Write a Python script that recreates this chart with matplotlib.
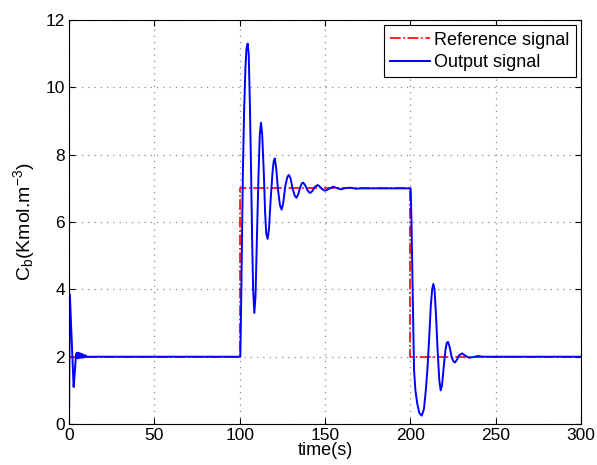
import matplotlib
matplotlib.use("Agg")
import matplotlib.pyplot as plt

# Reference signal
ref_t = [0, 100, 100, 200, 200, 300]
ref_y = [2, 2, 7, 7, 2, 2]

# Output signal
out_t = [0, 0.5, 1.5, 2.7, 3.4, 4.1, 4.6, 5.1, 5.6, 6.1, 6.6, 7.1, 7.6, 8.1, 8.6, 9.2, 9.8, 10.5, 11.5,
         100.4, 101.0, 101.5, 101.9, 102.6, 103.4, 104.0, 104.7, 105.3, 106.0, 106.7, 107.3, 107.9, 108.6,
         109.3, 110.2, 111.1, 111.8, 112.5, 113.2, 114.2, 114.9, 115.6, 116.4, 117.2, 118.2, 119.3, 120.0,
         120.6, 121.4, 122.5, 123.6, 124.6, 125.5, 126.7, 127.9, 128.8, 129.8, 131.0, 132.3, 133.3, 134.3,
         135.5, 136.5, 137.2, 138.3, 139.5, 140.7, 141.5, 142.6, 144.0, 145.8, 147.4, 148.8, 150.1, 152.3,
         154.8, 157.0, 159.2, 162.0, 165.0, 168.0, 172.0,
         200.2, 200.7, 201.2, 201.7, 202.2, 203.0, 204.1, 205.3, 206.7, 208.0, 209.0, 210.0, 211.0, 212.0,
         212.8, 213.5, 214.2, 215.0, 216.0, 217.0, 217.8, 218.6, 219.6, 220.6, 221.4, 222.1, 223.0, 224.2,
         225.3, 226.2, 227.2, 228.6, 230.3, 232.3, 234.4, 237.0, 239.5, 243.0, 300.0]
out_y = [0, 3.85, 2.6, 1.1, 1.55, 2.08, 2.12, 1.95, 2.12, 1.96, 2.1, 1.97, 2.08, 1.97, 2.06, 1.98, 2.04, 1.99, 2.0,
         2.0, 4.0, 6.0, 7.5, 9.3, 10.6, 11.15, 11.3, 11.0, 9.5, 7.5, 5.5, 4.0, 3.3,
         3.8, 5.7, 7.5, 8.6, 8.95, 8.6, 7.4, 6.3, 5.65, 5.5, 5.8, 6.7, 7.5, 7.82,
         7.89, 7.6, 6.95, 6.5, 6.37, 6.55, 7.05, 7.33, 7.40, 7.3, 7.0, 6.78, 6.72, 6.82,
         7.03, 7.15, 7.17, 7.1, 6.97, 6.88, 6.87, 6.92, 7.04, 7.10, 7.03, 6.96, 6.93, 6.98,
         7.05, 7.01, 6.97, 7.01, 7.02, 6.99, 7.0,
         7.0, 6.0, 4.5, 3.0, 1.6, 1.0, 0.6, 0.33, 0.25, 0.45, 0.95, 1.6, 2.5, 3.5,
         4.0, 4.16, 4.0, 3.3, 2.2, 1.3, 1.0, 1.15, 1.7, 2.2, 2.42, 2.44, 2.3, 2.0,
         1.86, 1.83, 1.9, 2.04, 2.10, 2.03, 1.97, 1.99, 2.02, 2.0, 2.0]

x_ticks = [0, 50, 100, 150, 200, 250, 300]
y_ticks = [0, 2, 4, 6, 8, 10, 12]

plt.rcParams['font.family'] = ['Liberation Sans', 'DejaVu Sans']
plt.rcParams['font.size'] = 12.5
plt.rcParams['mathtext.fontset'] = 'custom'
plt.rcParams['mathtext.rm'] = 'Liberation Sans'
plt.rcParams['mathtext.it'] = 'Liberation Sans'

fig = plt.figure(figsize=(5.97, 4.65), dpi=100)
ax = fig.add_axes([0.1156, 0.088, 0.8575, 0.869])

ax.plot(ref_t, ref_y, color='red', linestyle='-.', linewidth=1.2, label='Reference signal')
ax.plot(out_t, out_y, color='blue', linestyle='-', linewidth=1.4, label='Output signal')

ax.set_xlim(0, 300)
ax.set_ylim(0, 12)
ax.set_xticks(x_ticks)
ax.set_yticks(y_ticks)
ax.grid(True, linestyle=(0, (1, 4)), color='#8a8a8a', linewidth=0.9)
ax.tick_params(direction='in', top=True, right=True, length=4, width=0.8, labelsize=12.5, pad=3)
for s in ax.spines.values():
    s.set_linewidth(0.8)

ax.set_xlabel('time(s)', fontsize=13, labelpad=-1)
ax.set_ylabel(r'C$_\mathrm{b}$(Kmol.m$^{-3}$)', fontsize=14, labelpad=6)

leg = ax.legend(loc='upper right', fancybox=False, framealpha=1, edgecolor='black',
                borderaxespad=0.3, handlelength=2.2, handletextpad=0.2, borderpad=0.35,
                labelspacing=0.3, fontsize=13)
leg.get_frame().set_linewidth(0.8)

fig.savefig('out.png', dpi=100)
